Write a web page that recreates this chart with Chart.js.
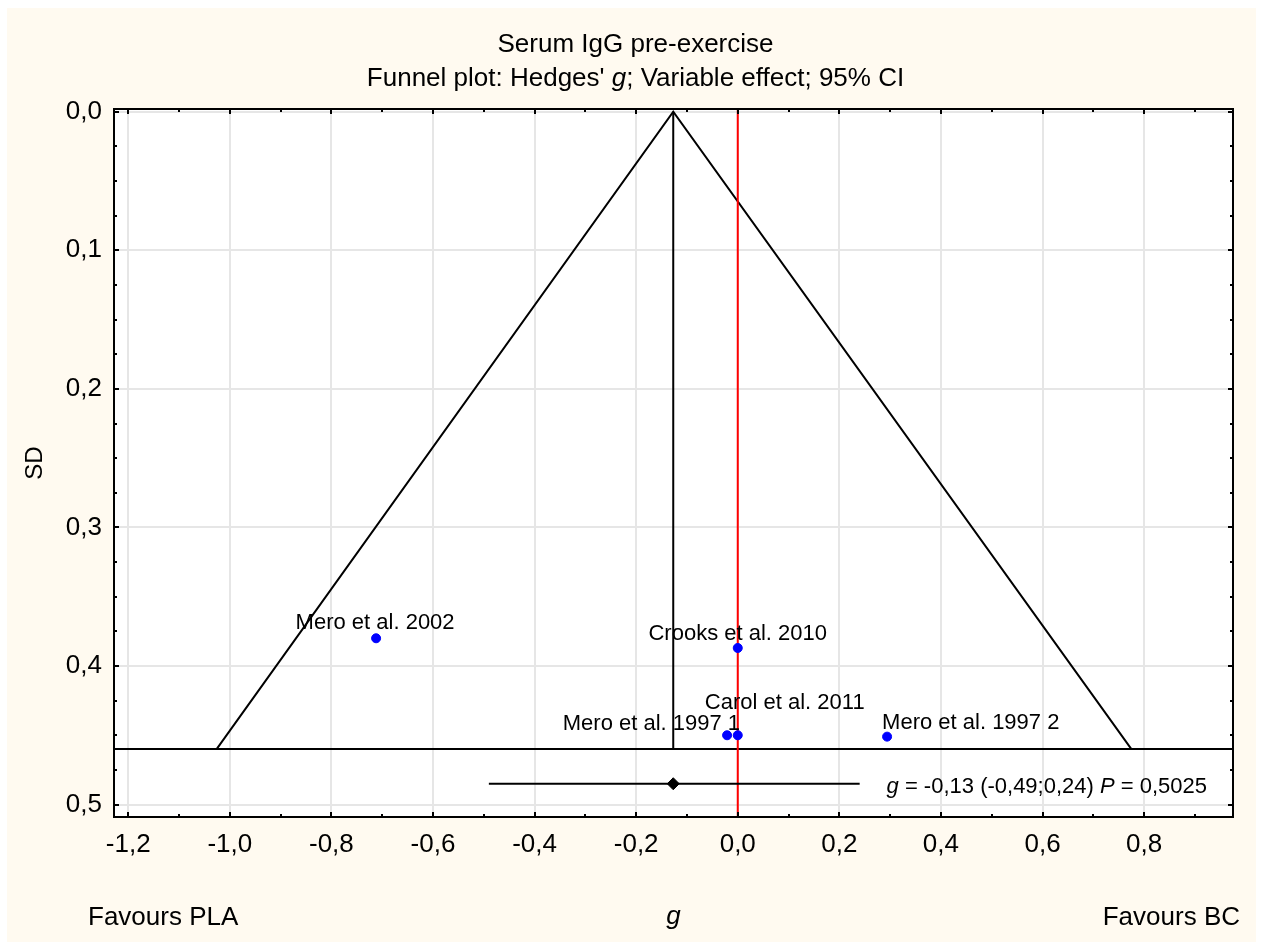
<!DOCTYPE html>
<html lang="en">
<head>
  <meta charset="utf-8">
  <title>Serum IgG pre-exercise</title>
  <script src="https://cdn.jsdelivr.net/npm/chart.js"></script>
  <style>
    html, body { margin: 0; padding: 0; background: #fff; }
    #chart { display: block; }
  </style>
</head>
<body>
  <canvas id="chart" width="1266" height="942"></canvas>
  <script>
    // study points (Hedges' g vs SD)
    const studies = ['Mero et al. 2002', 'Crooks et al. 2010', 'Mero et al. 1997 1', 'Carol et al. 2011', 'Mero et al. 1997 2'];
    const effects = [-0.712, 0.0, -0.021, 0.0, 0.294];
    const sds = [0.380, 0.387, 0.450, 0.450, 0.451];

    // pooled estimate and funnel
    const pooled = -0.127;
    const ciLow = -0.49;
    const ciHigh = 0.24;
    const summarySd = 0.485;
    const funnelX = [-1.026, -0.127, 0.775];
    const funnelY = [0.46, 0.0, 0.46];
    const funnelBase = 0.46;
    const summaryText = ['g', ' = -0,13 (-0,49;0,24) ', 'P', ' = 0,5025'];

    // axes
    const xRange = [-1.228, 0.975];
    const yRange = [-0.002, 0.509];
    const xTicks = [-1.2, -1.0, -0.8, -0.6, -0.4, -0.2, 0.0, 0.2, 0.4, 0.6, 0.8];
    const xMinor = [-1.1, -0.9, -0.7, -0.5, -0.3, -0.1, 0.1, 0.3, 0.5, 0.7, 0.9];
    const yTicks = [0.0, 0.1, 0.2, 0.3, 0.4, 0.5];
    const yMinor = [0.025, 0.05, 0.075, 0.125, 0.15, 0.175, 0.225, 0.25, 0.275, 0.325, 0.35, 0.375, 0.425, 0.45, 0.475];

    const FONT = '"Liberation Sans", Arial, sans-serif';
    const comma = v => v.toFixed(1).replace('.', ',');

    const xy = (xs, ys) => xs.map((x, i) => ({ x, y: ys[i] }));

    // where each study label sits relative to its point
    const labelPlace = [
      { align: 'center', dx: -1, dy: -9 },
      { align: 'center', dx: 0, dy: -8 },
      { align: 'right', dx: 13, dy: -5 },
      { align: 'center', dx: 47, dy: -26 },
      { align: 'left', dx: -5, dy: -8 }
    ];

    const decor = {
      id: 'decor',
      beforeDraw(chart) {
        const { ctx, chartArea: a } = chart;
        ctx.save();
        ctx.fillStyle = '#fffaf0';
        ctx.fillRect(7, 8, 1249, 934);
        ctx.fillStyle = '#ffffff';
        ctx.fillRect(a.left, a.top, a.right - a.left, a.bottom - a.top);

        // titles
        ctx.fillStyle = '#000';
        ctx.textBaseline = 'alphabetic';
        ctx.textAlign = 'center';
        ctx.font = '26px ' + FONT;
        const cx = (a.left + a.right) / 2 - 38;
        ctx.fillText('Serum IgG pre-exercise', cx, 52);
        const parts = [['Funnel plot: Hedges\' ', ''], ['g', 'italic '], ['; Variable effect; 95% CI', '']];
        let w = 0;
        parts.forEach(p => { ctx.font = p[1] + '26px ' + FONT; w += ctx.measureText(p[0]).width; });
        let x = cx - w / 2;
        ctx.textAlign = 'left';
        parts.forEach(p => { ctx.font = p[1] + '26px ' + FONT; ctx.fillText(p[0], x, 86); x += ctx.measureText(p[0]).width; });

        // side captions
        ctx.font = '26px ' + FONT;
        ctx.fillText('Favours PLA', 88, 925);
        ctx.textAlign = 'right';
        ctx.fillText('Favours BC', 1240, 925);
        ctx.restore();
      },
      afterDatasetsDraw(chart) {
        const { ctx, chartArea: a, scales: { x, y } } = chart;
        ctx.save();
        // study labels
        ctx.fillStyle = '#000';
        ctx.font = '22px ' + FONT;
        ctx.textBaseline = 'alphabetic';
        studies.forEach((s, i) => {
          const p = labelPlace[i];
          ctx.textAlign = p.align;
          ctx.fillText(s, x.getPixelForValue(effects[i]) + p.dx, y.getPixelForValue(sds[i]) + p.dy);
        });
        // summary text, right side of the CI row
        let w = 0;
        summaryText.forEach((t, i) => { ctx.font = (i % 2 === 0 ? 'italic ' : '') + '22px ' + FONT; w += ctx.measureText(t).width; });
        let tx = a.right - 26 - w;
        const ty = y.getPixelForValue(summarySd) + 9;
        ctx.textAlign = 'left';
        summaryText.forEach((t, i) => {
          ctx.font = (i % 2 === 0 ? 'italic ' : '') + '22px ' + FONT;
          ctx.fillText(t, tx, ty);
          tx += ctx.measureText(t).width;
        });

        // frame and inward ticks
        ctx.strokeStyle = '#000';
        ctx.lineWidth = 2;
        ctx.strokeRect(a.left, a.top, a.right - a.left, a.bottom - a.top);
        ctx.beginPath();
        const tickX = (v, len) => {
          const px = Math.round(x.getPixelForValue(v));
          ctx.moveTo(px, a.bottom); ctx.lineTo(px, a.bottom - len);
          ctx.moveTo(px, a.top); ctx.lineTo(px, a.top + len);
        };
        const tickY = (v, len) => {
          const py = Math.round(y.getPixelForValue(v));
          ctx.moveTo(a.left, py); ctx.lineTo(a.left + len, py);
          ctx.moveTo(a.right, py); ctx.lineTo(a.right - len, py);
        };
        xTicks.forEach(v => tickX(v, 5));
        xMinor.forEach(v => tickX(v, 3));
        yTicks.forEach(v => tickY(v, 5));
        yMinor.forEach(v => tickY(v, 3));
        ctx.stroke();
        ctx.restore();
      }
    };

    const line = (data, color) => ({
      type: 'line', data, borderColor: color, borderWidth: 2, pointRadius: 0, fill: false, tension: 0
    });

    new Chart(document.getElementById('chart'), {
      type: 'scatter',
      data: {
        datasets: [
          { label: 'Studies', data: xy(effects, sds), backgroundColor: '#0000ff', borderColor: '#0000ff', pointRadius: 4.5 },
          { label: 'Pooled', data: [{ x: pooled, y: summarySd }], pointStyle: 'rectRot', pointRadius: 6, backgroundColor: '#000', borderColor: '#000' },
          line(xy([ciLow, ciHigh], [summarySd, summarySd]), '#000'),
          line(xy([0, 0], yRange), '#ff0000'),
          line(xy([pooled, pooled], [0, funnelBase]), '#000'),
          line(xy(xRange, [funnelBase, funnelBase]), '#000'),
          line(xy(funnelX, funnelY), '#000')
        ]
      },
      options: {
        responsive: false,
        animation: false,
        devicePixelRatio: 1,
        layout: { padding: { top: 109, right: 33, left: 0, bottom: 0 } },
        plugins: { legend: { display: false }, tooltip: { enabled: false } },
        scales: {
          x: {
            type: 'linear', min: xRange[0], max: xRange[1],
            afterBuildTicks: s => { s.ticks = xTicks.map(value => ({ value })); },
            afterFit: s => { s.height = 125; },
            grid: { color: '#e6e6e6', lineWidth: 2, drawTicks: false },
            border: { display: false },
            ticks: { color: '#000', font: { family: FONT, size: 26 }, padding: 12, callback: v => comma(v), maxRotation: 0 },
            title: { display: true, text: 'g', color: '#000', font: { family: FONT, size: 26, style: 'italic' }, padding: { top: 0, bottom: 10 } }
          },
          y: {
            type: 'linear', reverse: true, min: yRange[0], max: yRange[1],
            afterBuildTicks: s => { s.ticks = yTicks.map(value => ({ value })); },
            afterFit: s => { s.width = 114; },
            grid: { color: '#e6e6e6', lineWidth: 2, drawTicks: false },
            border: { display: false },
            ticks: { color: '#000', font: { family: FONT, size: 26 }, padding: 12, callback: v => comma(v) },
            title: { display: true, text: 'SD', color: '#000', font: { family: FONT, size: 24 }, padding: { top: 21, bottom: 0 } }
          }
        }
      },
      plugins: [decor]
    });
  </script>
</body>
</html>
